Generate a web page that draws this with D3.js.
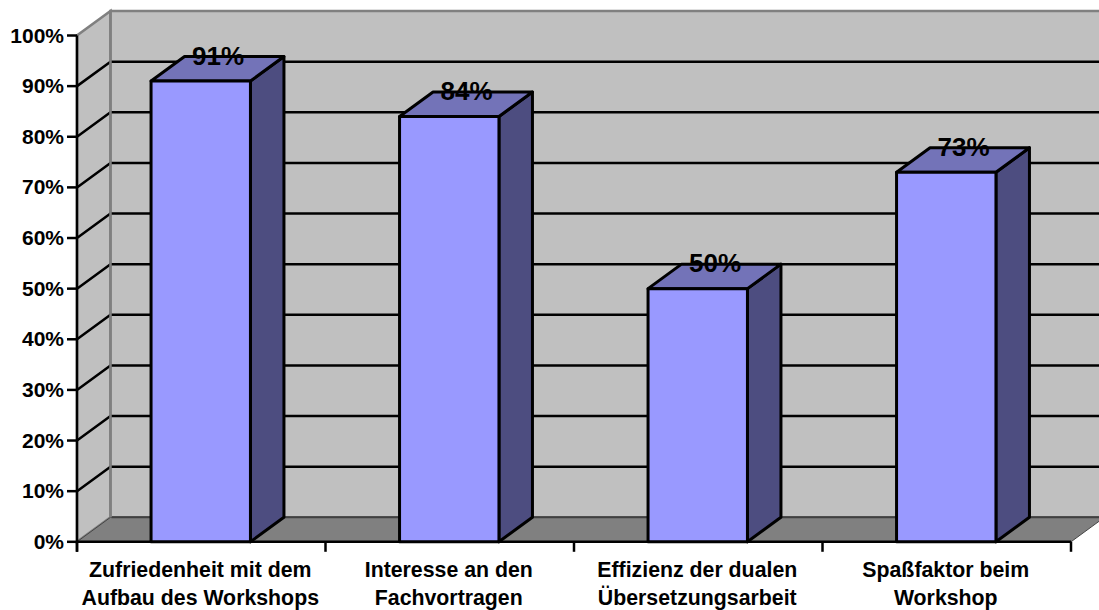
<!DOCTYPE html>
<html lang="de">
<head>
<meta charset="utf-8">
<title>Workshop-Auswertung</title>
<script src="https://cdnjs.cloudflare.com/ajax/libs/d3/7.8.5/d3.min.js"></script>
<style>
  html, body { margin: 0; padding: 0; background: #fff; overflow: hidden; }
  svg { display: block; }
  text { font-family: "Liberation Sans", Arial, sans-serif; font-weight: bold; fill: #000; }
</style>
</head>
<body>
<svg id="chart" width="1099" height="610"></svg>
<script>
const categories = [
  ["Zufriedenheit mit dem", "Aufbau des Workshops"],
  ["Interesse an den", "Fachvortragen"],
  ["Effizienz der dualen", "Übersetzungsarbeit"],
  ["Spaßfaktor beim", "Workshop"]
];
const values = [91, 84, 50, 73];
const yTicks = [0, 10, 20, 30, 40, 50, 60, 70, 80, 90, 100];

const plotLeft = 77, plotRight = 1071, plotBottom = 541.8, plotTop = 35.5;
const depthX = 33.5, depthY = -24.5;

const svg = d3.select("#chart");
const y = d3.scaleLinear().domain([0, 100]).range([plotBottom, plotTop]);
const x = d3.scaleBand().domain(d3.range(categories.length))
  .range([plotLeft, plotRight]).paddingInner(0).paddingOuter(0);
const barWidth = x.bandwidth() * 0.4;

const poly = pts => pts.map(p => p.join(",")).join(" ");
const wallGrey = "#c0c0c0", floorGrey = "#808080", edgeGrey = "#808080";

// Side wall, back wall and floor of the 3D box
svg.append("polygon")
  .attr("points", poly([[plotLeft, y(0)], [plotLeft, y(100)], [plotLeft + depthX, y(100) + depthY], [plotLeft + depthX, y(0) + depthY]]))
  .attr("fill", wallGrey).attr("stroke", edgeGrey).attr("stroke-width", 2.5);
svg.append("polygon")
  .attr("points", poly([[plotLeft + depthX, y(100) + depthY], [plotRight + depthX, y(100) + depthY], [plotRight + depthX, y(0) + depthY], [plotLeft + depthX, y(0) + depthY]]))
  .attr("fill", wallGrey).attr("stroke", edgeGrey).attr("stroke-width", 2.5);
svg.append("polygon")
  .attr("points", poly([[plotLeft, y(0)], [plotLeft + depthX, y(0) + depthY], [plotRight + depthX, y(0) + depthY], [plotRight, y(0)]]))
  .attr("fill", floorGrey).attr("stroke", "#444").attr("stroke-width", 1);
svg.append("line")
  .attr("x1", plotLeft + depthX + 1).attr("x2", plotRight + depthX)
  .attr("y1", y(0) + depthY).attr("y2", y(0) + depthY)
  .attr("stroke", "#404040").attr("stroke-width", 2);

// Gridlines on both walls
const gridTicks = yTicks.filter(t => t > 0 && t < 100);
svg.append("g").selectAll("path").data(gridTicks).join("path")
  .attr("d", t => `M${plotLeft},${y(t)}L${plotLeft + depthX},${y(t) + depthY}H${plotRight + depthX}`)
  .attr("fill", "none").attr("stroke", "#000").attr("stroke-width", 2.5);
// The wall corner stays grey where gridlines meet it
svg.append("line")
  .attr("x1", plotLeft + depthX).attr("x2", plotLeft + depthX)
  .attr("y1", y(100) + depthY).attr("y2", y(0) + depthY)
  .attr("stroke", edgeGrey).attr("stroke-width", 2.5);

// Value axis
const yAxis = svg.append("g");
yAxis.append("line")
  .attr("x1", plotLeft).attr("x2", plotLeft).attr("y1", y(100)).attr("y2", y(0) + 10)
  .attr("stroke", "#000").attr("stroke-width", 2.5);
const yTick = yAxis.selectAll("g").data(yTicks).join("g")
  .attr("transform", t => `translate(0,${y(t)})`);
yTick.append("line").attr("x1", plotLeft - 10).attr("x2", plotLeft)
  .attr("stroke", "#000").attr("stroke-width", 2.5);
yTick.append("text").attr("x", plotLeft - 13).attr("y", 7)
  .attr("text-anchor", "end").attr("font-size", 21).text(t => t + "%");

// Category axis
const xAxis = svg.append("g");
xAxis.append("line").attr("x1", plotLeft).attr("x2", plotRight)
  .attr("y1", y(0)).attr("y2", y(0)).attr("stroke", "#000").attr("stroke-width", 2.5);
xAxis.selectAll("line.tick").data(d3.range(categories.length + 1)).join("line")
  .attr("class", "tick")
  .attr("x1", i => plotLeft + i * x.step()).attr("x2", i => plotLeft + i * x.step())
  .attr("y1", y(0)).attr("y2", y(0) + 10)
  .attr("stroke", "#000").attr("stroke-width", 2.5);
const catText = xAxis.selectAll("text").data(categories).join("text")
  .attr("text-anchor", "middle").attr("font-size", 21.3)
  .attr("transform", (d, i) => `translate(${x(i) + x.bandwidth() / 2 - 1},0)`);
catText.selectAll("tspan").data(d => d).join("tspan")
  .attr("x", 0).attr("y", (d, i) => 577 + i * 28).text(d => d);

// Bars: side face, top face, front face
const bars = svg.append("g").selectAll("g").data(values).join("g");
const barX = i => x(i) + (x.bandwidth() - barWidth) / 2 - 0.5;
const edge = s => s.attr("stroke", "#000").attr("stroke-width", 3).attr("stroke-linejoin", "round");
bars.append("polygon").call(edge).attr("fill", "#4d4d80")
  .attr("points", (v, i) => poly([[barX(i) + barWidth, y(0)], [barX(i) + barWidth, y(v)], [barX(i) + barWidth + depthX, y(v) + depthY], [barX(i) + barWidth + depthX, y(0) + depthY]]));
bars.append("polygon").call(edge).attr("fill", "#7373b8")
  .attr("points", (v, i) => poly([[barX(i), y(v)], [barX(i) + depthX, y(v) + depthY], [barX(i) + barWidth + depthX, y(v) + depthY], [barX(i) + barWidth, y(v)]]));
bars.append("rect").call(edge).attr("fill", "#9999ff")
  .attr("x", (v, i) => barX(i)).attr("width", barWidth)
  .attr("y", v => y(v)).attr("height", v => y(0) - y(v));

// Value labels over the top face
bars.append("text")
  .attr("x", (v, i) => barX(i) + barWidth / 2 + depthX / 2 + 0.5)
  .attr("y", v => y(v) + depthY + 8)
  .attr("text-anchor", "middle").attr("font-size", 26)
  .text(v => v + "%");
</script>
</body>
</html>
